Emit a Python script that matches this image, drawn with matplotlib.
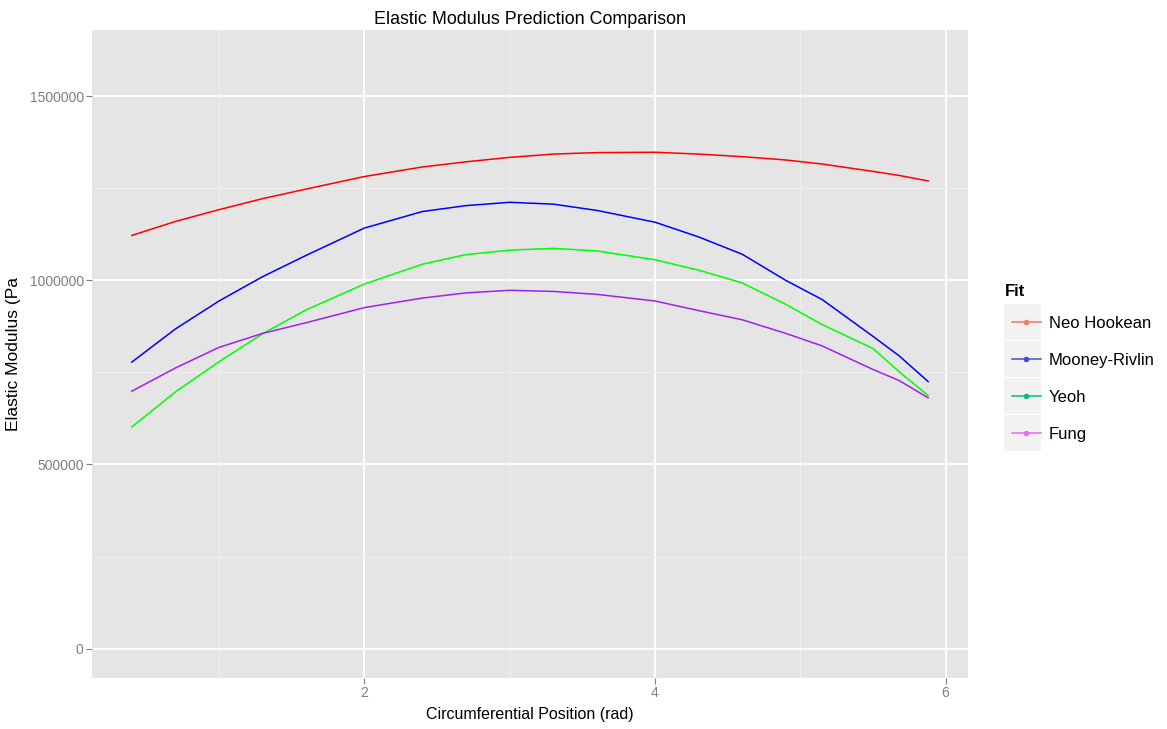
import numpy as np
import matplotlib.pyplot as plt
from matplotlib.lines import Line2D
from matplotlib.patches import Rectangle

plt.rcParams['font.family'] = ['Liberation Sans', 'DejaVu Sans']

# circumferential position (rad)
pos = [0.4, 0.7, 1.0, 1.3, 1.6, 2.0, 2.4, 2.7, 3.0, 3.3, 3.6, 4.0, 4.3, 4.6, 4.9, 5.15, 5.5, 5.68, 5.88]

# elastic modulus (Pa) per fit
neo_hookean = [1122e3, 1160e3, 1192e3, 1222e3, 1248e3, 1282e3, 1308e3, 1322e3, 1334e3, 1343e3,
               1347e3, 1348e3, 1343e3, 1336e3, 1327e3, 1316e3, 1296e3, 1285e3, 1270e3]
mooney_rivlin = [778e3, 868e3, 944e3, 1010e3, 1068e3, 1142e3, 1187e3, 1203e3, 1212e3, 1207e3,
                 1190e3, 1158e3, 1118e3, 1071e3, 1000e3, 948e3, 848e3, 795e3, 725e3]
yeoh = [602e3, 697e3, 779e3, 855e3, 920e3, 990e3, 1044e3, 1070e3, 1082e3, 1087e3,
        1080e3, 1056e3, 1028e3, 993e3, 935e3, 880e3, 815e3, 752e3, 687e3]
fung = [699e3, 762e3, 818e3, 856e3, 885e3, 926e3, 952e3, 966e3, 973e3, 970e3,
        962e3, 944e3, 918e3, 893e3, 856e3, 822e3, 758e3, 728e3, 681e3]

fits = ['Neo Hookean', 'Mooney-Rivlin', 'Yeoh', 'Fung']
series = [neo_hookean, mooney_rivlin, yeoh, fung]
line_cols = ['#FF0000', '#0000FF', '#00FF00', '#A020F0']
key_cols = ['#F8766D', '#4B4BD2', '#00BF7D', '#E76BF3']

fig = plt.figure(figsize=(11.67, 7.29), dpi=100)
ax = fig.add_axes([92/1167, 1-678/729, 876/1167, 648/729])
ax.set_facecolor('#E5E5E5')

for y, c in zip(series, line_cols):
    ax.plot(pos, y, color=c, lw=1.1, zorder=3)

ax.set_xlim(0.126, 6.154)
ax.set_ylim(-80000, 1680000)
ax.set_xticks([2, 4, 6])
ax.set_xticks([1, 3, 5], minor=True)
ax.set_yticks([0, 500000, 1000000, 1500000])
ax.set_yticks([250000, 750000, 1250000], minor=True)
ax.set_yticklabels(['0', '500000', '1000000', '1500000'])
ax.grid(True, which='major', color='white', lw=1.3)
ax.grid(True, which='minor', color='#F2F2F2', lw=0.6)
ax.set_axisbelow(True)
for s in ax.spines.values():
    s.set_visible(False)
ax.tick_params(which='major', length=4, color='#7F7F7F', labelcolor='#7F7F7F', labelsize=10, pad=2)
ax.tick_params(which='minor', length=0)

ax.set_title('Elastic Modulus Prediction Comparison', fontsize=12.9, pad=4)
ax.set_xlabel('Circumferential Position (rad)', fontsize=11.5, labelpad=5)
ax.set_ylabel('Elastic Modulus (Pa', fontsize=12.5, labelpad=6)

# legend key backgrounds
for i in range(4):
    fig.patches.append(Rectangle((1004/1167, 1-(340+37*i)/729), 37/1167, 36/729,
                                 transform=fig.transFigure, facecolor='#F2F2F2',
                                 edgecolor='none', zorder=0))
fig.text(1005/1167, 1-292/729, 'Fit', fontsize=12, fontweight='bold', va='center', ha='left')

handles = [Line2D([], [], color=c, lw=1.1, marker='o', markersize=3) for c in key_cols]
leg = fig.legend(handles, fits, loc='upper left', bbox_to_anchor=(1000/1167, 1-304/729),
                 frameon=False, fontsize=12, handlelength=1.75,
                 handletextpad=0.48, labelspacing=1.32, borderpad=0.2)

fig.savefig('out.png', dpi=100)
